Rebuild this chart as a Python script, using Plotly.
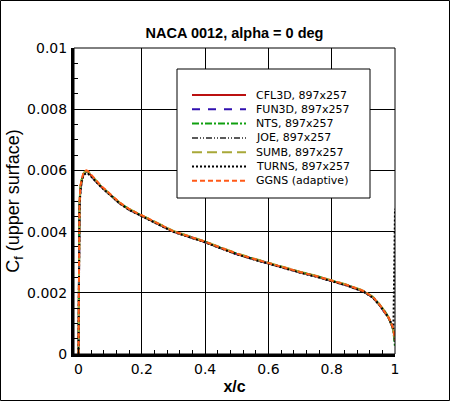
import plotly.graph_objects as go

# ---------------- data ----------------
x_c = [0.0, 0.001, 0.003, 0.006, 0.01, 0.015, 0.02, 0.025, 0.03, 0.04, 0.05,
       0.07, 0.1, 0.13, 0.16, 0.2, 0.25, 0.3, 0.35, 0.4, 0.45, 0.5, 0.55,
       0.6, 0.65, 0.7, 0.75, 0.8, 0.85, 0.9, 0.93, 0.95, 0.97, 0.98, 0.99,
       0.995, 1.0]

cf_cfl3d = [0.0, 0.0034, 0.0048, 0.0054, 0.00568, 0.00586, 0.00594, 0.00596,
            0.00594, 0.00583, 0.00570, 0.00548, 0.00520, 0.00493, 0.00472,
            0.00452, 0.00425, 0.00400, 0.00383, 0.00366, 0.00346, 0.00327,
            0.00311, 0.00296, 0.00281, 0.00267, 0.00254, 0.00240, 0.00224,
            0.00205, 0.00185, 0.00162, 0.00135, 0.00118, 0.00095, 0.00078,
            0.00040]
cf_fun3d = [0.0, 0.0034, 0.0048, 0.0054, 0.00567, 0.00585, 0.00593, 0.00595,
            0.00593, 0.00582, 0.00569, 0.00548, 0.00520, 0.00493, 0.00472,
            0.00452, 0.00425, 0.00400, 0.00383, 0.00366, 0.00346, 0.00327,
            0.00311, 0.00296, 0.00281, 0.00267, 0.00254, 0.00240, 0.00224,
            0.00205, 0.00185, 0.00162, 0.00135, 0.00118, 0.00095, 0.00077,
            0.00038]
cf_nts = [0.0, 0.0035, 0.0049, 0.0054, 0.00569, 0.00587, 0.00595, 0.00597,
          0.00595, 0.00584, 0.00571, 0.00549, 0.00521, 0.00494, 0.00473,
          0.00453, 0.00426, 0.00401, 0.00384, 0.00367, 0.00347, 0.00328,
          0.00312, 0.00297, 0.00282, 0.00268, 0.00255, 0.00241, 0.00225,
          0.00206, 0.00186, 0.00163, 0.00136, 0.00118, 0.00094, 0.00074,
          0.00022]
cf_joe = [0.0, 0.0034, 0.0048, 0.0054, 0.00567, 0.00585, 0.00593, 0.00595,
          0.00593, 0.00582, 0.00569, 0.00547, 0.00519, 0.00492, 0.00471,
          0.00451, 0.00424, 0.00399, 0.00382, 0.00365, 0.00345, 0.00326,
          0.00310, 0.00295, 0.00280, 0.00266, 0.00253, 0.00239, 0.00223,
          0.00204, 0.00184, 0.00161, 0.00134, 0.00117, 0.00094, 0.00077,
          0.00042]
cf_sumb = [0.0, 0.0035, 0.0049, 0.0055, 0.00570, 0.00588, 0.00596, 0.00598,
           0.00596, 0.00585, 0.00572, 0.00550, 0.00522, 0.00495, 0.00474,
           0.00454, 0.00427, 0.00402, 0.00385, 0.00368, 0.00348, 0.00329,
           0.00313, 0.00298, 0.00283, 0.00269, 0.00256, 0.00242, 0.00226,
           0.00207, 0.00187, 0.00164, 0.00137, 0.00119, 0.00096, 0.00079,
           0.00046]
cf_turns = [0.0, 0.0033, 0.0047, 0.0053, 0.00562, 0.00580, 0.00588, 0.00590,
            0.00589, 0.00580, 0.00568, 0.00547, 0.00520, 0.00492, 0.00471,
            0.00451, 0.00424, 0.00399, 0.00382, 0.00365, 0.00345, 0.00326,
            0.00310, 0.00295, 0.00280, 0.00266, 0.00253, 0.00239, 0.00223,
            0.00204, 0.00184, 0.00161, 0.00135, 0.00118, 0.00096, 0.00082,
            0.00475]
cf_ggns = [0.0, 0.0035, 0.0049, 0.0055, 0.00572, 0.00590, 0.00598, 0.00600,
           0.00598, 0.00587, 0.00574, 0.00551, 0.00523, 0.00495, 0.00474,
           0.00453, 0.00426, 0.00401, 0.00384, 0.00367, 0.00347, 0.00328,
           0.00312, 0.00297, 0.00282, 0.00268, 0.00255, 0.00241, 0.00225,
           0.00206, 0.00186, 0.00163, 0.00136, 0.00119, 0.00096, 0.00080,
           0.00045]

series_names = ["CFL3D, 897x257", "FUN3D, 897x257", "NTS, 897x257",
                "JOE, 897x257", "SUMB, 897x257", "TURNS, 897x257",
                "GGNS (adaptive)"]
series_values = [cf_cfl3d, cf_fun3d, cf_nts, cf_joe, cf_sumb, cf_turns, cf_ggns]

x_tick_vals = [0, 0.2, 0.4, 0.6, 0.8, 1.0]
x_tick_text = ["0", "0.2", "0.4", "0.6", "0.8", "1"]
y_tick_vals = [0, 0.002, 0.004, 0.006, 0.008, 0.01]
y_tick_text = ["0", "0.002", "0.004", "0.006", "0.008", "0.01"]

# ---------------- styles ----------------
colors = ["#bb1010", "#3010b0", "#10a010", "#5a5a5a", "#a8a838", "#000000", "#ff5a18"]
dashes = ["solid", "8px,8px", "7px,2px,2px,2px", "6px,2px,1px,2px,1px,2px",
          "10px,5px", "2px,2px", "5px,3px"]

W, H = 450, 401
ML, MR, MT, MB = 74, 55, 48, 47
PW, PH = W - ML - MR, H - MT - MB

fig = go.Figure()
for name, vals, col, dsh in zip(series_names, series_values, colors, dashes):
    fig.add_trace(go.Scatter(x=x_c, y=vals, mode="lines", name=name,
                             line=dict(color=col, width=2, dash=dsh),
                             showlegend=False))

# manual legend (box, samples, labels) in paper coordinates
def px_x(p):
    return (p - ML) / PW

def px_y(p):
    return (H - MB - p) / PH

shapes = [
    dict(type="rect", xref="paper", yref="paper", x0=0, x1=1, y0=0, y1=1,
         line=dict(color="black", width=1)),
    dict(type="rect", xref="paper", yref="paper",
         x0=px_x(0.5), x1=px_x(W - 0.5), y0=px_y(H - 0.5), y1=px_y(0.5),
         line=dict(color="black", width=1)),
    dict(type="rect", xref="paper", yref="paper",
         x0=px_x(177), x1=px_x(370), y0=px_y(198), y1=px_y(69),
         line=dict(color="black", width=1), fillcolor="white", layer="above"),
]
annotations = []
for i, (name, col, dsh) in enumerate(zip(series_names, colors, dashes)):
    yy = px_y(95 + 14.3 * i)
    shapes.append(dict(type="line", xref="paper", yref="paper",
                       x0=px_x(192), x1=px_x(246), y0=yy, y1=yy,
                       line=dict(color=col, width=2, dash=dsh)))
    annotations.append(dict(xref="paper", yref="paper", x=px_x(254), y=yy,
                            text=name, showarrow=False, xanchor="left",
                            yanchor="middle",
                            font=dict(family="DejaVu Sans", size=11, color="black")))

axis_common = dict(showline=True, linecolor="black", linewidth=3,
                   ticks="inside", ticklen=7, tickcolor="black", tickwidth=1,
                   showgrid=True, gridcolor="black", gridwidth=1, automargin=False,
                   tickfont=dict(family="DejaVu Sans", size=14, color="black"))

fig.update_layout(
    width=W, height=H,
    margin=dict(l=ML, r=MR, t=MT, b=MB, autoexpand=False),
    paper_bgcolor="white", plot_bgcolor="white",
    title=dict(text="<b>NACA 0012, alpha = 0 deg</b>", x=0.5, xref="paper",
               y=1 - 33 / H, yanchor="middle", xanchor="center",
               font=dict(family="Liberation Sans", size=14.5, color="black")),
    xaxis=dict(range=[-(78.5 - ML) / 316.5, 1.0], tickvals=x_tick_vals,
               ticktext=x_tick_text, zeroline=True, zerolinecolor="white",
               minor=dict(dtick=0.04, tick0=0, ticks="inside", ticklen=4,
                          tickcolor="black", showgrid=False),
               title=dict(text="<b>x/c</b>", standoff=6,
                          font=dict(family="Liberation Sans", size=16, color="black")),
               **axis_common),
    yaxis=dict(range=[0, 0.01], tickvals=y_tick_vals, ticktext=y_tick_text,
               zeroline=False, ticklabelstandoff=1,
               minor=dict(dtick=0.0005, tick0=0, ticks="inside", ticklen=4,
                          tickcolor="black", showgrid=False),
               title=dict(text="C<sub>f</sub> (upper surface)", standoff=3,
                          font=dict(family="Liberation Sans", size=18, color="black")),
               **axis_common),
    shapes=shapes,
    annotations=annotations,
    showlegend=False,
)

fig.write_html("out.html", config={"displayModeBar": False},
               post_script="document.body.style.margin='0';document.body.style.overflow='hidden';")
